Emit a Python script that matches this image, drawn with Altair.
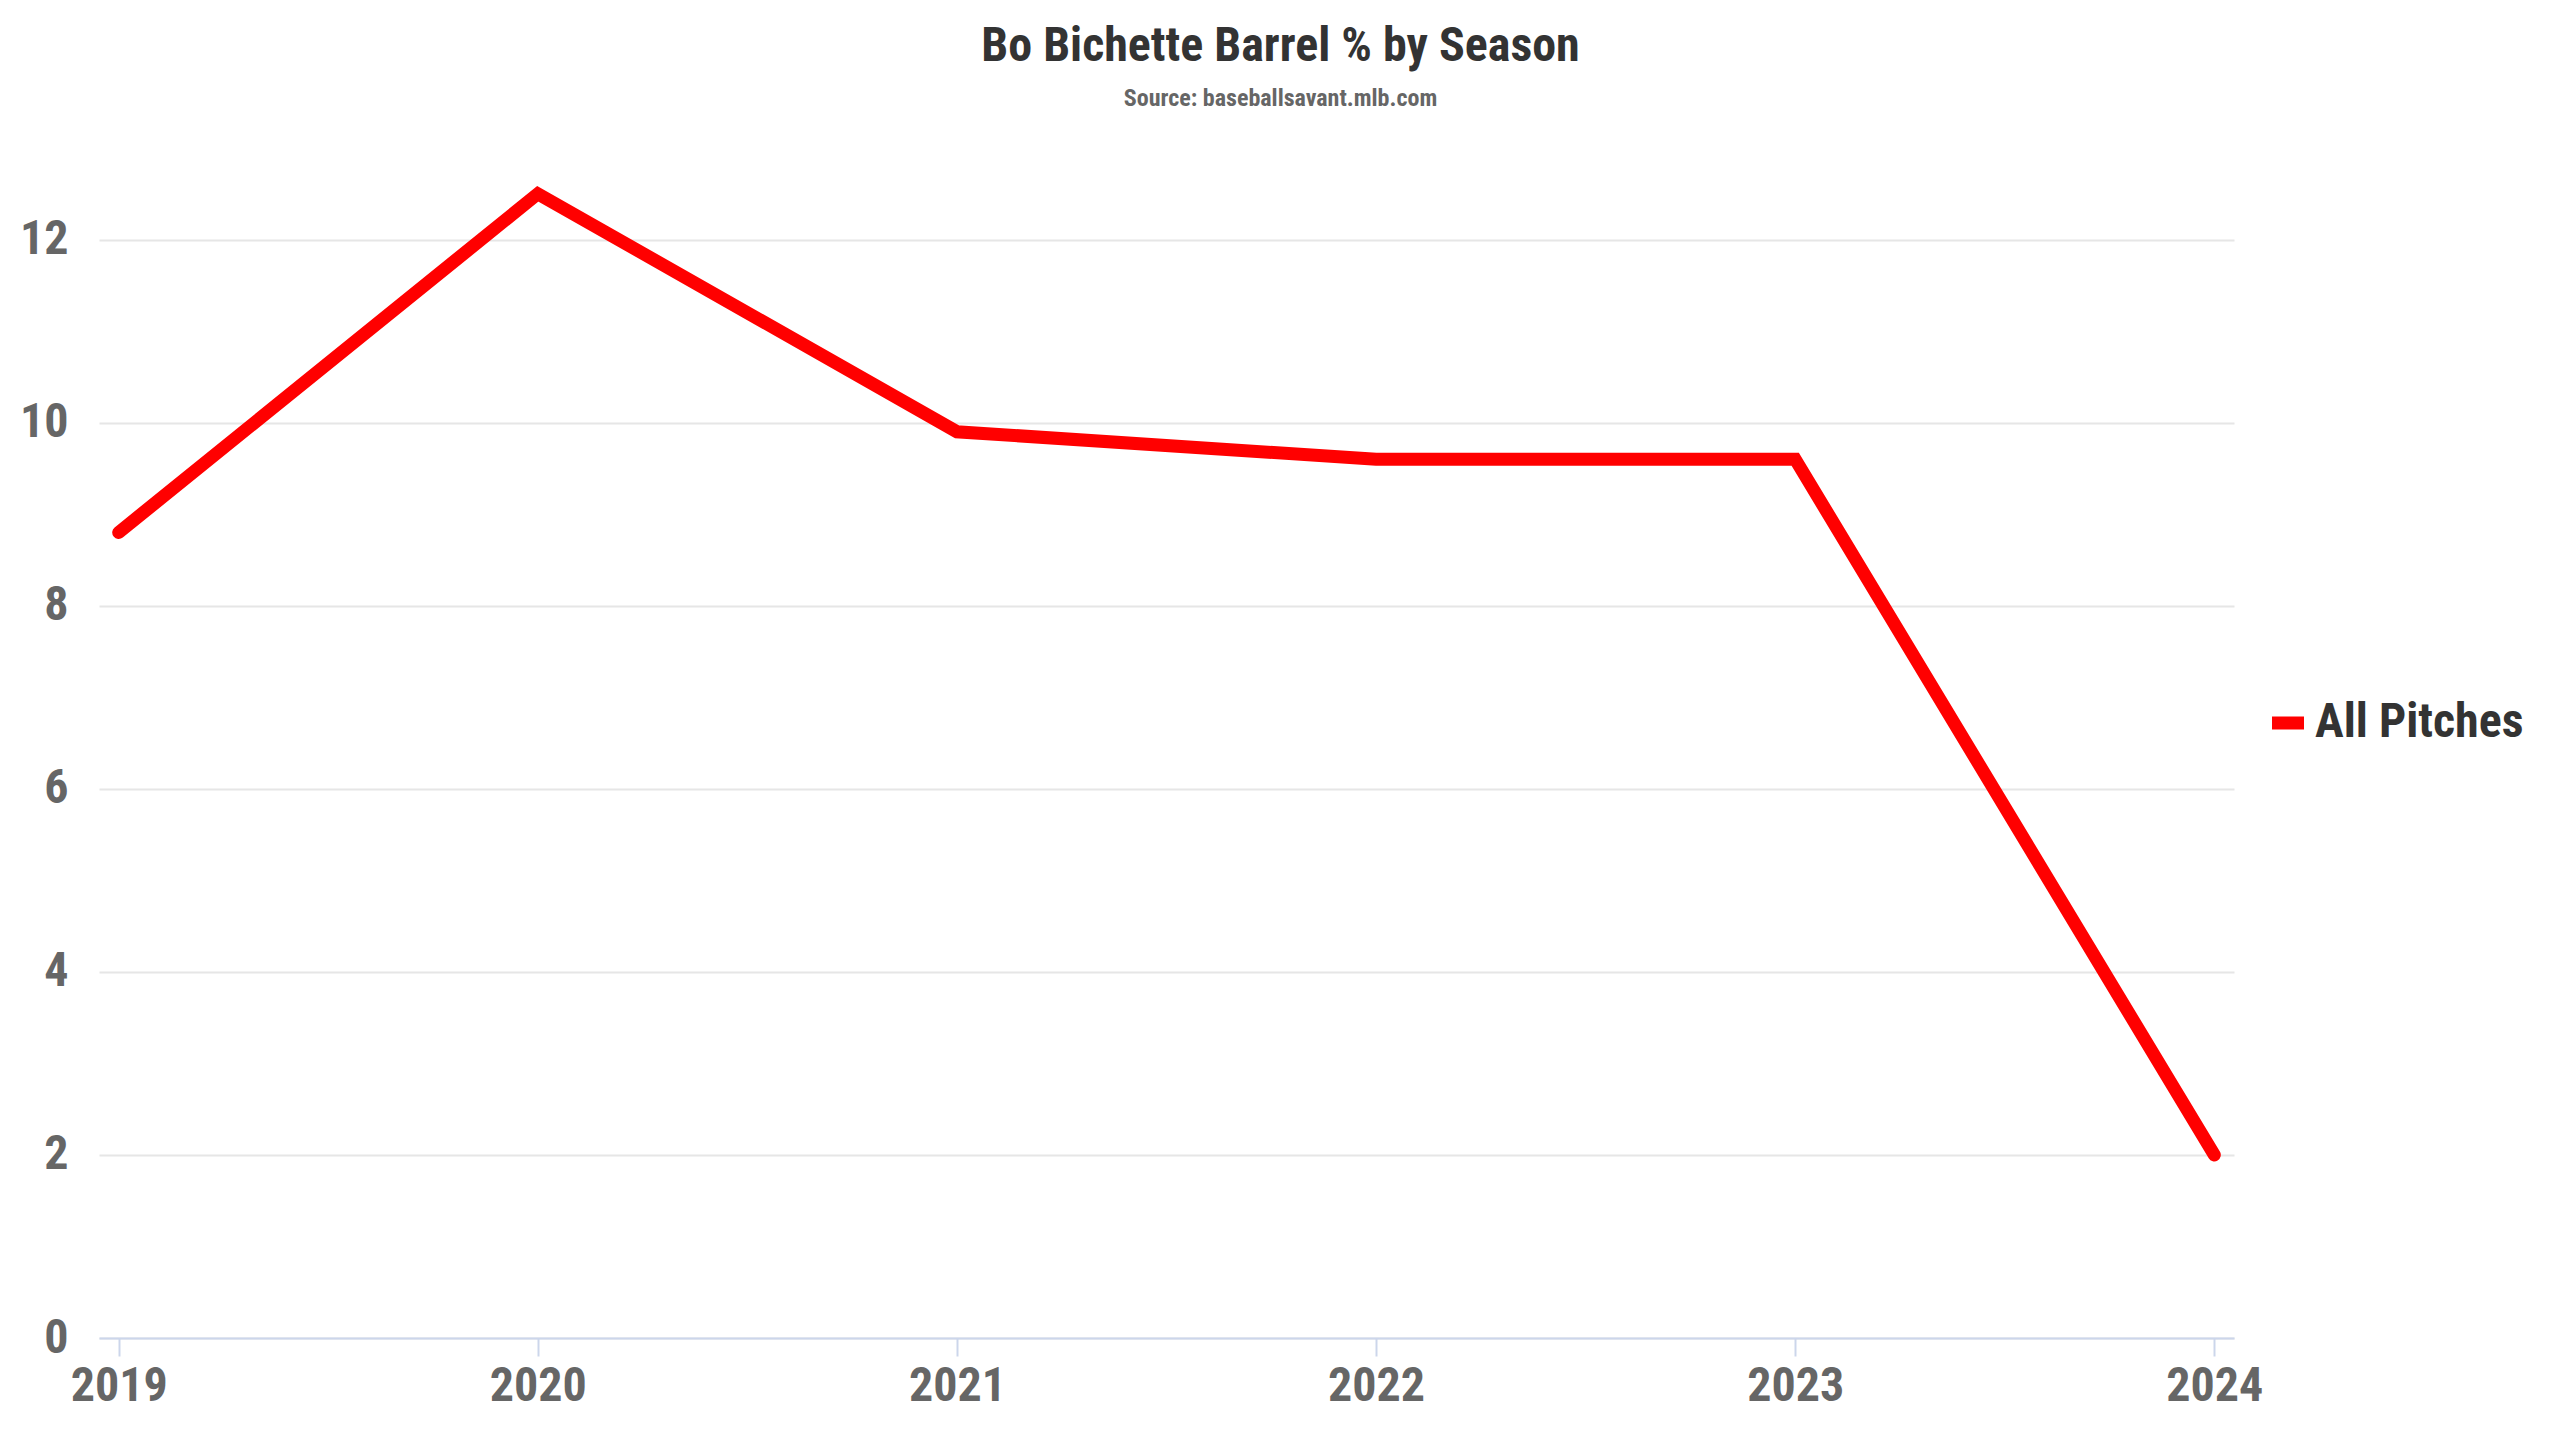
import altair as alt
import pandas as pd

seasons = ["2019", "2020", "2021", "2022", "2023", "2024"]
barrel_pct = [8.8, 12.5, 9.9, 9.6, 9.6, 2.0]
series_name = ["All Pitches"] * len(seasons)
y_ticks = [0, 2, 4, 6, 8, 10, 12]

df = pd.DataFrame({"Season": seasons, "Barrel": barrel_pct, "Series": series_name})

FONT = "Roboto Condensed, Liberation Sans Narrow, Roboto, sans-serif"

line = alt.Chart(df).mark_line(strokeWidth=13, strokeCap="round", strokeJoin="miter").encode(
    x=alt.X("Season:O", scale=alt.Scale(type="point", padding=0.047),
            axis=alt.Axis(title=None, labelAngle=0, labelFont=FONT, labelFontSize=48,
                          labelFontWeight="bold", labelColor="#666666",
                          domainColor="#ccd6eb", domainWidth=2, tickColor="#ccd6eb",
                          tickWidth=2, tickSize=18, labelPadding=6, grid=False)),
    y=alt.Y("Barrel:Q", scale=alt.Scale(domain=[0, 13], nice=False, zero=True),
            axis=alt.Axis(title=None, values=y_ticks, labelFont=FONT, labelFontSize=48,
                          labelFontWeight="bold", labelColor="#666666", domain=False,
                          ticks=False, gridColor="#e6e6e6", gridWidth=2, labelPadding=31,
                          minExtent=76, maxExtent=76)),
    color=alt.Color("Series:N", scale=alt.Scale(range=["#ff0000"]),
                    legend=alt.Legend(title=None, orient="none", legendX=2165, legendY=551,
                                      symbolType="stroke", symbolStrokeWidth=13,
                                      symbolSize=1024, labelFont=FONT, labelFontSize=48,
                                      labelFontWeight="bold", labelColor="#333333",
                                      labelOffset=3, labelLimit=0)),
)

chart = line.properties(
    width=2135,
    height=1190,
    background="white",
    padding={"left": 11, "top": 15, "right": 5, "bottom": 5},
    title=alt.TitleParams(
        text="Bo Bichette Barrel % by Season",
        subtitle="Source: baseballsavant.mlb.com",
        font=FONT, fontSize=48, fontWeight="bold", color="#333333",
        subtitleFont=FONT, subtitleFontSize=24, subtitleFontWeight="bold",
        subtitleColor="#666666", subtitlePadding=16,
        anchor="middle", frame="group", dx=114, offset=37,
    ),
).configure_view(strokeWidth=0, stroke="transparent")

chart.save("out.html", embed_options={"renderer": "svg", "actions": False})
